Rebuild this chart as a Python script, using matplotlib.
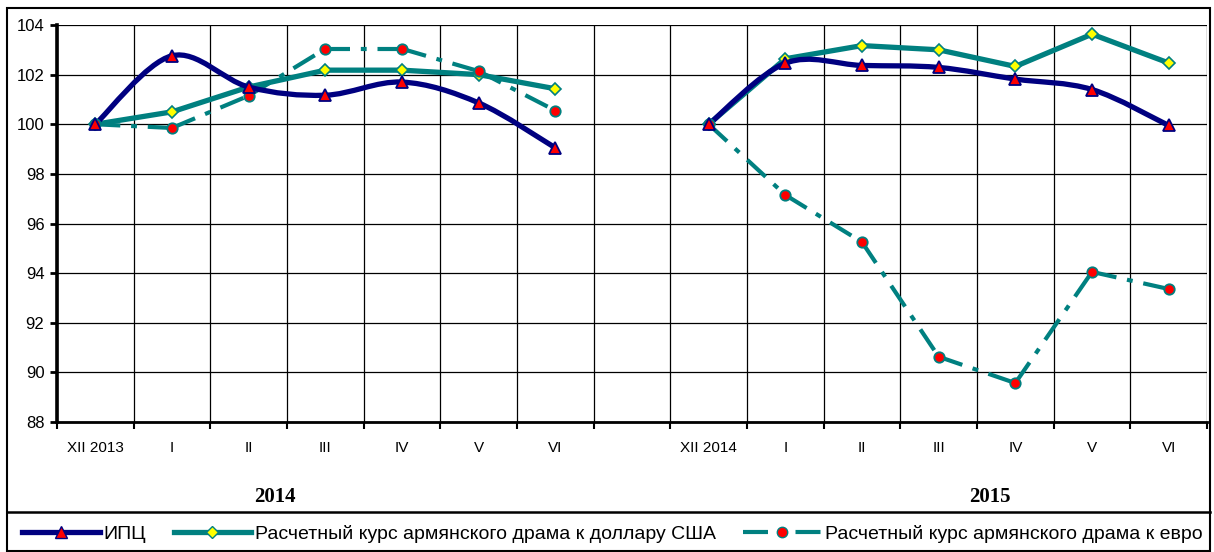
import numpy as np
import matplotlib
matplotlib.use("Agg")
import matplotlib.pyplot as plt
from matplotlib.path import Path
from matplotlib.patches import PathPatch, Rectangle
from matplotlib.lines import Line2D

# Данные (индексы, XII предыдущего года = 100)
labels_2014 = ['XII 2013', 'I', 'II', 'III', 'IV', 'V', 'VI']
labels_2015 = ['XII 2014', 'I', 'II', 'III', 'IV', 'V', 'VI']

cpi_2014 = [100.0, 102.76, 101.5, 101.17, 101.7, 100.86, 99.05]
cpi_2015 = [100.0, 102.46, 102.37, 102.29, 101.82, 101.4, 99.95]

usd_2014 = [100.0, 100.5, 101.5, 102.18, 102.18, 102.0, 101.43]
usd_2015 = [100.0, 102.64, 103.17, 103.0, 102.33, 103.63, 102.47]

eur_2014 = [100.0, 99.85, 101.15, 103.04, 103.04, 102.14, 100.55]
eur_2015 = [100.0, 97.15, 95.25, 90.63, 89.57, 94.05, 93.36]

NAVY = '#000080'
TEAL = '#008080'

plt.rcParams['font.family'] = ['Liberation Sans', 'DejaVu Sans']

fig = plt.figure(figsize=(12.14, 5.52), dpi=100)
W, H = 1214, 552
ax = fig.add_axes([57 / W, 1 - 422 / H, (1207 - 57) / W, (422 - 25) / H])

x14 = np.arange(7)
x15 = np.arange(8, 15)


def smooth_path(xs, ys):
    # сглаженная линия как в Excel (кривые Безье через точки)
    pts = np.column_stack([xs, ys])
    verts = [pts[0]]
    codes = [Path.MOVETO]
    n = len(pts)
    for i in range(n - 1):
        p0 = pts[i - 1] if i > 0 else pts[i]
        p1 = pts[i]
        p2 = pts[i + 1]
        p3 = pts[i + 2] if i + 2 < n else pts[i + 1]
        c1 = p1 + (p2 - p0) / 6
        c2 = p2 - (p3 - p1) / 6
        verts += [c1, c2, p2]
        codes += [Path.CURVE4] * 3
    return Path(verts, codes)


def dashed_segments(xs, ys):
    # штрих-пунктир начинается заново на каждом отрезке
    for i in range(len(xs) - 1):
        ax.plot(xs[i:i + 2], ys[i:i + 2], color=TEAL, lw=3.0,
                dashes=(6, 2.6, 1.4, 2.6), dash_capstyle='butt',
                solid_capstyle='butt', zorder=3)


for xs, cpi, usd, eur in [(x14, cpi_2014, usd_2014, eur_2014),
                          (x15, cpi_2015, usd_2015, eur_2015)]:
    dashed_segments(xs, eur)
    ax.plot(xs, eur, ls='none', marker='o', ms=7.5, mfc='red',
            mec=TEAL, mew=1.3, zorder=6)
    ax.plot(xs, usd, color=TEAL, lw=3.8, marker='D', ms=6.5, mfc='yellow',
            mec=TEAL, mew=1.2, zorder=4)
    ax.add_patch(PathPatch(smooth_path(xs, cpi), fill=False, ec=NAVY,
                           lw=3.8, zorder=5, capstyle='round'))
    ax.plot(xs, cpi, ls='none', marker='^', ms=9, mfc='red', mec=NAVY,
            mew=1.3, zorder=6)

ax.set_xlim(-0.5, 14.5)
ax.set_ylim(88, 104)
ax.set_yticks(np.arange(88, 105, 2))
ax.set_xticks(list(x14) + list(x15))
ax.set_xticklabels(labels_2014 + labels_2015, fontsize=11)
ax.set_xticks(np.arange(-0.5, 14.6, 1), minor=True)
ax.tick_params(axis='x', which='major', length=0, pad=14)
ax.tick_params(axis='x', which='minor', length=5, width=1.5, direction='out')
ax.tick_params(axis='y', length=5, width=2, direction='out', labelsize=12, pad=4)
ax.grid(True, axis='x', which='minor', color='black', lw=0.9)
ax.grid(True, axis='y', which='major', color='black', lw=0.9)
ax.set_axisbelow(True)
for s in ['top', 'right']:
    ax.spines[s].set_visible(False)
ax.spines['left'].set_linewidth(2.6)
ax.spines['bottom'].set_linewidth(2.0)

fig.text(275 / W, 1 - 497 / H, '2014', fontsize=15, fontweight='bold',
         family='Liberation Serif', ha='center', va='center')
fig.text(990 / W, 1 - 497 / H, '2015', fontsize=15, fontweight='bold',
         family='Liberation Serif', ha='center', va='center')

# рамка и поле легенды
fig.patches.append(Rectangle((7 / W, 1 - 551 / H), (1210 - 7) / W, (551 - 8) / H,
                             transform=fig.transFigure, fill=False,
                             ec='black', lw=1.5))
fig.lines.append(Line2D([7 / W, 1210 / W], [1 - 512 / H, 1 - 512 / H],
                        transform=fig.transFigure, color='black', lw=1.8))

handles = [
    Line2D([], [], color=NAVY, lw=3.8, marker='^', ms=9, mfc='red', mec=NAVY),
    Line2D([], [], color=TEAL, lw=3.8, marker='D', ms=6.5, mfc='yellow', mec=TEAL),
    Line2D([], [], color=TEAL, lw=3.0, dashes=(6, 2.6, 1.4, 2.6),
           marker='o', ms=7.5, mfc='red', mec=TEAL),
]
names = ['ИПЦ',
         'Расчетный курс армянского драма к доллару США',
         'Расчетный курс армянского драма к евро']
fig.legend(handles, names, loc='center left', ncol=3, frameon=False,
           bbox_to_anchor=(22 / W, 1 - 534 / H), fontsize=14,
           handlelength=4.0, handletextpad=0.2, columnspacing=1.4,
           borderpad=0, borderaxespad=0)

plt.savefig('out.png', dpi=100)
